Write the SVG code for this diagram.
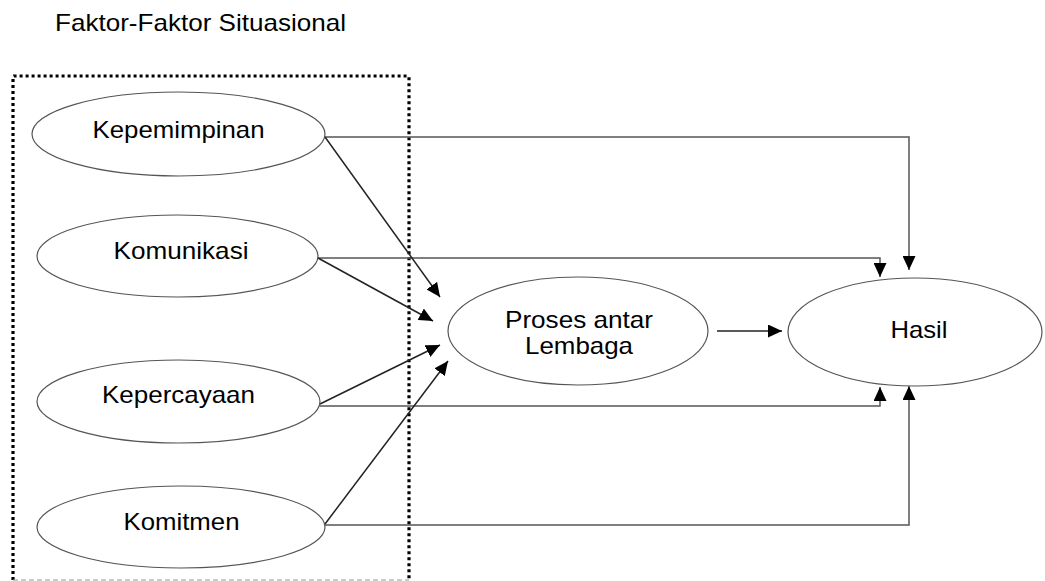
<svg xmlns="http://www.w3.org/2000/svg" width="1045" height="581" viewBox="0 0 1045 581">
<style>
.node ellipse{fill:#fff;stroke:#555;stroke-width:1.2}
text{font-family:"Liberation Sans",Arial,sans-serif;font-size:24px;fill:#000}
.lbl{text-anchor:middle}
.conn path{fill:none;stroke:#222;stroke-width:1.5}
.conn path.h{stroke:#555}
</style>
<defs>
<marker id="arr" markerUnits="userSpaceOnUse" markerWidth="14" markerHeight="13" refX="14" refY="6.5" orient="auto">
<path d="M0,0 L14,6.5 L0,13 z" fill="#000"/>
</marker>
</defs>
<rect width="1045" height="581" fill="#fff"/>
<text x="55" y="31" textLength="291" lengthAdjust="spacingAndGlyphs">Faktor-Faktor Situasional</text>
<g id="box">
<path d="M13,580 V77 Q13,76 14,76 H408 Q409,76 409,77 V580" fill="none" stroke="#000" stroke-width="3.2" stroke-dasharray="3 3"/>
<path d="M13,580 H409" fill="none" stroke="#999" stroke-width="1.2" stroke-dasharray="5 3"/>
</g>
<g class="conn" id="connectors">
<path class="h" d="M325,137 H909 V270" marker-end="url(#arr)"/>
<path class="h" d="M318,258 H880 V277" marker-end="url(#arr)"/>
<path class="h" d="M320,406 H880 V387" marker-end="url(#arr)"/>
<path class="h" d="M325,525 H909 V386" marker-end="url(#arr)"/>
<path d="M717,331 H782" marker-end="url(#arr)"/>
<path d="M325,137 L440,297" marker-end="url(#arr)"/>
<path d="M318,258 L433,321" marker-end="url(#arr)"/>
<path d="M320,404 L440,345" marker-end="url(#arr)"/>
<path d="M325,524 L448,361" marker-end="url(#arr)"/>
</g>
<g class="node" id="kepemimpinan">
<ellipse cx="178.5" cy="134" rx="146.5" ry="42"/>
<text class="lbl" x="178.5" y="138" textLength="172" lengthAdjust="spacingAndGlyphs">Kepemimpinan</text>
</g>
<g class="node" id="komunikasi">
<ellipse cx="177.5" cy="256" rx="140.5" ry="41"/>
<text class="lbl" x="181" y="259" textLength="135" lengthAdjust="spacingAndGlyphs">Komunikasi</text>
</g>
<g class="node" id="kepercayaan">
<ellipse cx="178.5" cy="401.5" rx="141.5" ry="41.5"/>
<text class="lbl" x="178.5" y="403" textLength="153" lengthAdjust="spacingAndGlyphs">Kepercayaan</text>
</g>
<g class="node" id="komitmen">
<ellipse cx="181" cy="527" rx="144" ry="41"/>
<text class="lbl" x="181.5" y="530" textLength="116" lengthAdjust="spacingAndGlyphs">Komitmen</text>
</g>
<g class="node" id="proses">
<ellipse cx="578" cy="331" rx="130" ry="54"/>
<text class="lbl" x="579" y="328" textLength="148" lengthAdjust="spacingAndGlyphs">Proses antar</text>
<text class="lbl" x="579" y="354" textLength="108" lengthAdjust="spacingAndGlyphs">Lembaga</text>
</g>
<g class="node" id="hasil">
<ellipse cx="915" cy="332" rx="127" ry="54"/>
<text class="lbl" x="919" y="338" textLength="57" lengthAdjust="spacingAndGlyphs">Hasil</text>
</g>
</svg>
